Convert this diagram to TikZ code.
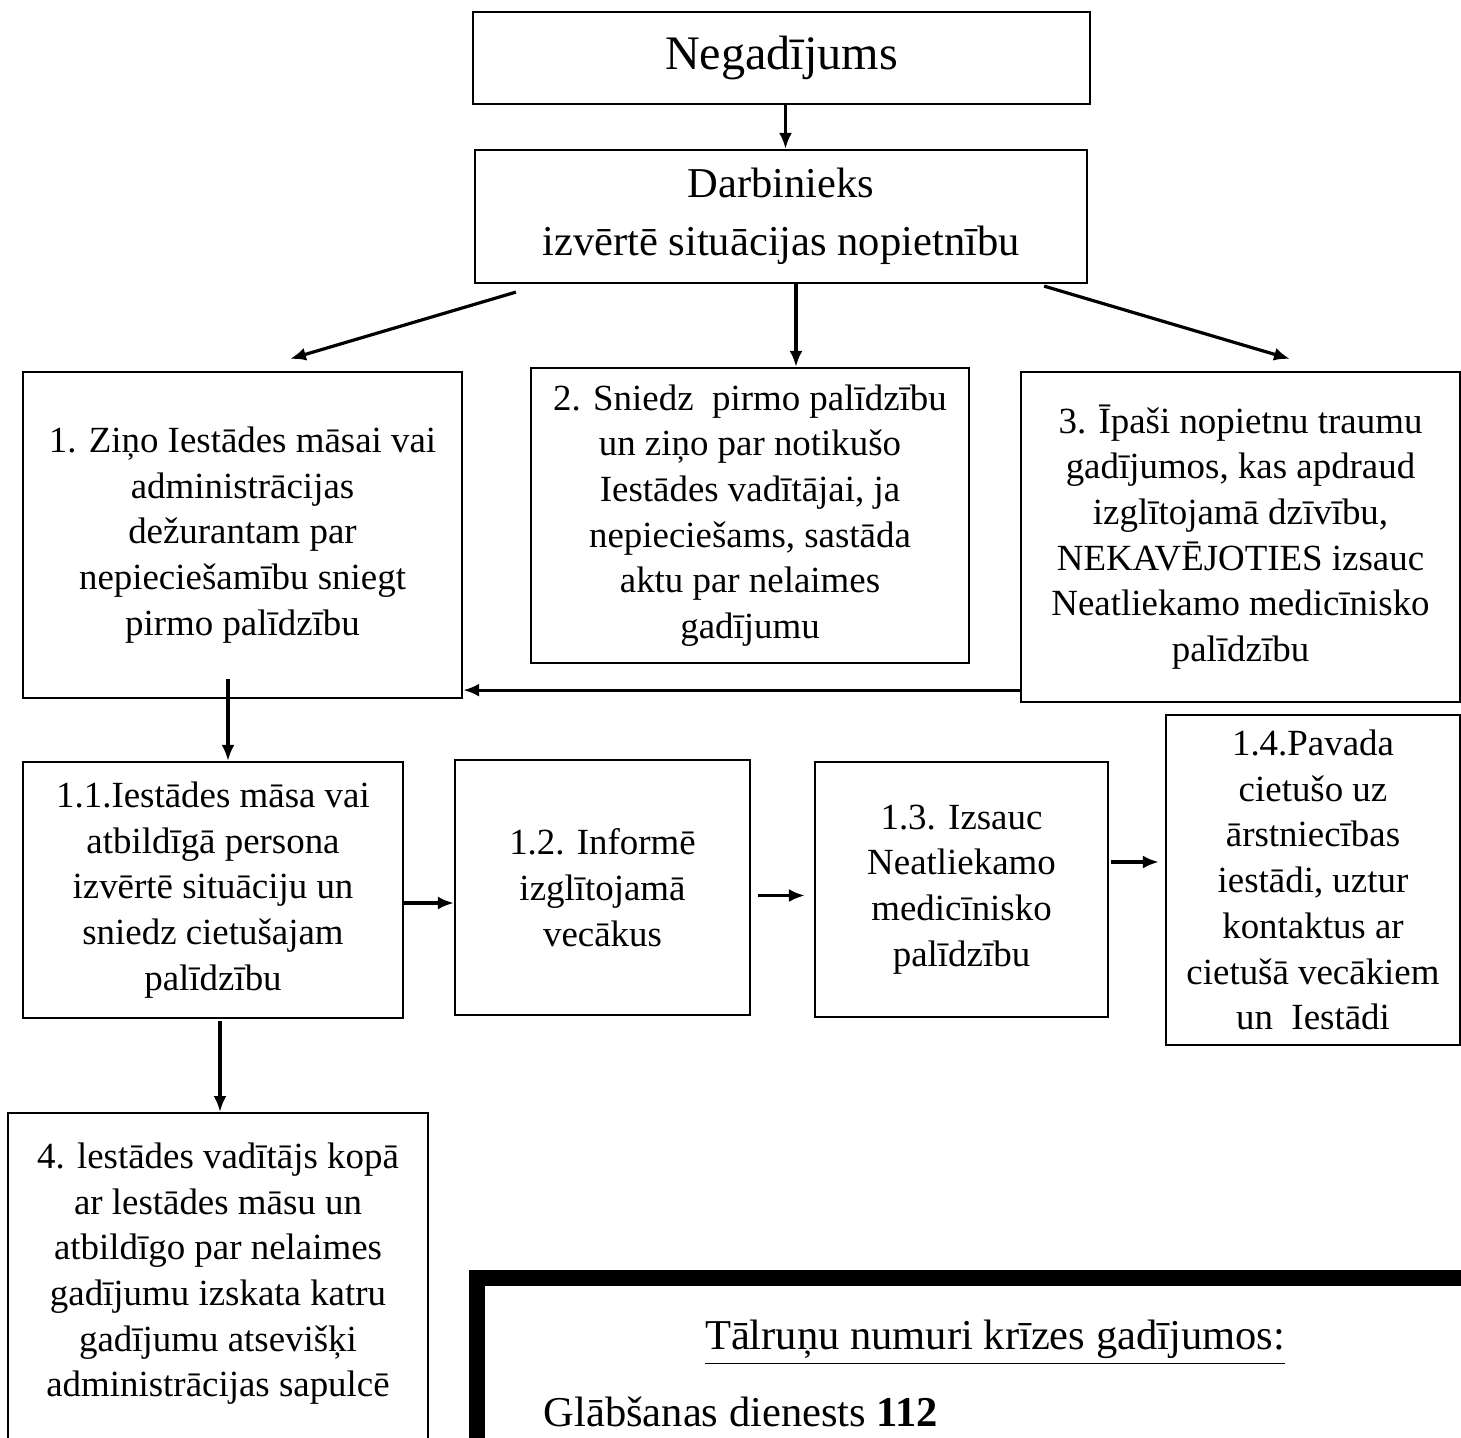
\documentclass[tikz,border=0pt]{standalone}
\usepackage{fontspec}
\setmainfont{Liberation Serif}
\usepackage{xcolor}
\usepackage{tikz}
\usetikzlibrary{arrows.meta}
\usetikzlibrary{shapes,positioning}

\begin{document}
\begin{tikzpicture}[
        box/.style={
            draw,
            line width=0.22mm,
            align=center,
            inner sep=0pt,
            font=\fontsize{10.5}{13}\selectfont
        },
        arrow/.style={
            -{Latex[length=1.6mm,width=1.3mm]},
            line width=0.32mm
        }
    ]
    \useasboundingbox (0,0) rectangle (14.61,-14.37);

    % top of the chart
    \node[
        box,
        minimum width=6.17cm,
        minimum height=0.92cm,
        font=\fontsize{13.7}{16}\selectfont
        ] (neg) at (7.815,-0.58) {Negadījums};

    \node[
        box,
        minimum width=6.12cm,
        minimum height=1.33cm,
        font=\fontsize{12.1}{16.5}\selectfont
        ] (darb) at (7.81,-2.165) {Darbinieks\\izvērtē situācijas nopietnību};

    % three ways
    \node[
        box,
        minimum width=4.39cm,
        minimum height=3.26cm
        ] (zino) at (2.425,-5.35) {1. Ziņo Iestādes māsai vai\\administrācijas\\dežurantam par\\nepieciešamību sniegt\\pirmo palīdzību};

    \node[
        box,
        minimum width=4.38cm,
        minimum height=2.95cm
        ] (sniedz) at (7.5,-5.155) {2. Sniedz\ \ pirmo palīdzību\\un ziņo par notikušo\\Iestādes vadītājai, ja\\nepieciešams, sastāda\\aktu par nelaimes\\gadījumu};

    \node[
        box,
        minimum width=4.39cm,
        minimum height=3.30cm
        ] (trauma) at (12.405,-5.37) {3. Īpaši nopietnu traumu\\gadījumos, kas apdraud\\izglītojamā dzīvību,\\NEKAVĒJOTIES izsauc\\Neatliekamo medicīnisko\\palīdzību};

    % second row
    \node[
        box,
        minimum width=3.80cm,
        minimum height=2.56cm
        ] (masa) at (2.13,-8.90) {1.1.Iestādes māsa vai\\atbildīgā persona\\izvērtē situāciju un\\sniedz cietušajam\\palīdzību};

    \node[
        box,
        minimum width=2.95cm,
        minimum height=2.55cm
        ] (informe) at (6.025,-8.875) {1.2. Informē\\izglītojamā\\vecākus};

    \node[
        box,
        minimum width=2.93cm,
        minimum height=2.55cm
        ] (izsauc) at (9.615,-8.895) {1.3. Izsauc\\Neatliekamo\\medicīnisko\\palīdzību};

    \node[
        box,
        minimum width=2.94cm,
        minimum height=3.30cm
        ] (pavada) at (13.13,-8.80) {1.4.Pavada\\cietušo uz\\ārstniecības\\iestādi, uztur\\kontaktus ar\\cietušā vecākiem\\un\ \ Iestādi};

    % last step
    \node[
        box,
        minimum width=4.20cm,
        minimum height=3.40cm,
        anchor=north
        ] (vaditajs) at (2.18,-11.12) {};
    \node[
        align=center,
        inner sep=0pt,
        font=\fontsize{10.5}{13}\selectfont,
        below=0.3cm of vaditajs.north
        ] (vaditajsteksts) {4. lestādes vadītājs kopā\\ar lestādes māsu un\\atbildīgo par nelaimes\\gadījumu izskata katru\\gadījumu atsevišķi\\administrācijas sapulcē};

    % phone numbers
    \draw[
        line width=1.6mm
        ] (4.77,-12.78) rectangle (15.2,-15.0);
    \node[
        inner sep=0pt,
        font=\fontsize{12.1}{15}\selectfont
        ] (talruni) at (9.95,-13.43) {\underline{Tālruņu numuri krīzes gadījumos:}};
    \node[
        inner sep=0pt,
        anchor=west,
        font=\fontsize{12.1}{15}\selectfont
        ] (dienests) at (5.43,-14.12) {Glābšanas dienests \textbf{112}};

    % connectors
    \coordinate (darbL) at ([xshift=0.42cm,yshift=-0.08cm]darb.south west);
    \coordinate (darbR) at ([xshift=-0.44cm,yshift=-0.02cm]darb.south east);
    \coordinate (darbM) at ([xshift=0.15cm]darb.south);
    \coordinate (traumaOut) at ([yshift=0.13cm]trauma.south west);
    \coordinate (zinoOut) at ([xshift=-0.145cm,yshift=0.2cm]zino.south);
    \coordinate (masaOut) at ([xshift=0.07cm]masa.south);

    \draw[arrow] ([xshift=0.04cm]neg.south) -- ([xshift=0.04cm]neg.south |- darb.north);
    \draw[arrow] (darbL) -- ([xshift=0.475cm,yshift=0.12cm]zino.north);
    \draw[arrow] (darbM) -- (darbM |- sniedz.north);
    \draw[arrow] (darbR) -- ([xshift=0.495cm,yshift=0.12cm]trauma.north);
    \draw[arrow] (traumaOut) -- (traumaOut -| zino.east);
    \draw[arrow] (zinoOut) -- (zinoOut |- masa.north);
    \draw[arrow] ([yshift=-0.13cm]masa.east) -- ([yshift=-0.13cm]masa.east -| informe.west);
    \draw[
        arrow,
        shorten <=0.07cm,
        shorten >=0.09cm
        ] ([yshift=-0.08cm]informe.east) -- ([yshift=-0.08cm]informe.east -| izsauc.west);
    \draw[
        arrow,
        shorten <=0.02cm,
        shorten >=0.06cm
        ] ([yshift=0.275cm]izsauc.east) -- ([yshift=0.275cm]izsauc.east -| pavada.west);
    \draw[arrow, shorten <=0.02cm] (masaOut) -- (masaOut |- vaditajs.north);

\end{tikzpicture}
\end{document}
